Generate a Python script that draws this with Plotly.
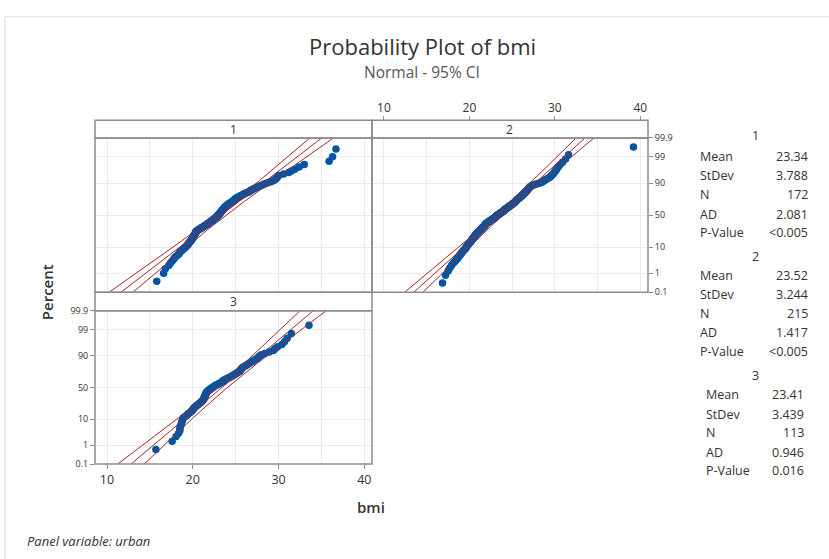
import plotly.graph_objects as go
from statistics import NormalDist

# ---------------- data ----------------
panel_labels = ["1", "2", "3"]

bmi_urban_1 = [
    15.8, 16.6, 16.8, 17.2, 17.4, 17.6, 17.8, 17.9, 18.1, 18.3,
    18.4, 18.5, 18.6, 18.75, 18.9,
    19.0, 19.1, 19.2, 19.3, 19.4,
    19.45, 19.5, 19.55, 19.6, 19.7,
    19.75, 19.8, 19.85, 19.9,
    19.95, 20.0, 20.0, 20.05, 20.1, 20.1,
    20.15, 20.2, 20.2, 20.25, 20.3, 20.3, 20.35, 20.4, 20.4, 20.4,
    20.5, 20.6, 20.65, 20.7, 20.8,
    20.9, 21.0, 21.0, 21.1, 21.2,
    21.3, 21.35, 21.4, 21.5, 21.55, 21.65,
    21.7, 21.75, 21.8, 21.9, 21.95, 22.0, 22.05, 22.1, 22.2,
    22.25, 22.3, 22.35, 22.4, 22.45, 22.5, 22.55, 22.6, 22.65, 22.7,
    22.75, 22.8, 22.85, 22.9, 22.9, 22.95, 23.0,
    23.05, 23.1, 23.1, 23.15, 23.2, 23.2, 23.25, 23.3, 23.3, 23.35, 23.4, 23.45, 23.5,
    23.5, 23.55, 23.6, 23.6, 23.65, 23.7, 23.7, 23.75, 23.8, 23.85, 23.9, 23.95, 24.0,
    24.05, 24.1, 24.2, 24.25, 24.3, 24.4, 24.5,
    24.55, 24.6, 24.7, 24.75, 24.8, 24.85, 24.9, 25.0, 25.05, 25.1, 25.2, 25.3, 25.4,
    25.5, 25.6, 25.7, 25.8, 25.95, 26.05, 26.2, 26.35, 26.5,
    26.6, 26.7, 26.8, 26.9, 27.05, 27.2,
    27.35, 27.5, 27.7, 27.9, 28.1,
    28.3, 28.5, 28.8, 29.1, 29.4,
    29.55, 29.7, 29.8, 29.9, 30.0,
    30.6, 31.2, 31.5, 31.9, 32.4, 33.0, 35.9, 36.3, 36.7,
]

bmi_urban_2 = [
    16.85, 17.2, 17.5, 17.7, 17.9, 18.1, 18.3, 18.45, 18.6, 18.7,
    18.8, 18.9, 19.0, 19.05, 19.15,
    19.25, 19.3, 19.4, 19.5, 19.55,
    19.6, 19.65, 19.7, 19.75, 19.8, 19.85, 19.9, 19.95, 20.0, 20.1,
    20.15, 20.2, 20.2, 20.25, 20.3, 20.35, 20.4, 20.4, 20.45, 20.5,
    20.55, 20.6, 20.6, 20.65, 20.7, 20.7, 20.75, 20.8, 20.8, 20.85,
    20.9, 20.95, 21.0, 21.05, 21.1, 21.1, 21.15, 21.2, 21.25, 21.3,
    21.35, 21.4, 21.4, 21.45, 21.5, 21.5, 21.55, 21.6, 21.65, 21.7,
    21.7, 21.75, 21.8, 21.8, 21.85, 21.85, 21.9, 21.9, 21.95, 22.0,
    22.05, 22.1, 22.15, 22.2, 22.25, 22.3, 22.35, 22.4, 22.45, 22.5,
    22.55, 22.6, 22.65, 22.7, 22.75, 22.8, 22.85, 22.9, 22.95, 23.0,
    23.05, 23.05, 23.1, 23.1, 23.15, 23.2, 23.25, 23.3,
    23.35, 23.4, 23.45, 23.5, 23.55, 23.6, 23.65, 23.7, 23.75, 23.8, 23.85, 23.9,
    23.95, 24.0, 24.0, 24.05, 24.1, 24.1, 24.15, 24.2, 24.25, 24.3,
    24.35, 24.4, 24.45, 24.5, 24.55, 24.6, 24.65, 24.7, 24.75, 24.8,
    24.85, 24.9, 24.95, 25.0, 25.05, 25.1, 25.15, 25.2, 25.25, 25.3,
    25.35, 25.4, 25.4, 25.45, 25.5, 25.5, 25.55, 25.6, 25.65, 25.7,
    25.75, 25.8, 25.85, 25.9, 25.95, 26.0, 26.05, 26.1, 26.15, 26.2,
    26.25, 26.3, 26.35, 26.4, 26.45, 26.5, 26.55, 26.6, 26.65, 26.7,
    26.75, 26.8, 26.85, 26.9, 26.95, 27.0, 27.05, 27.1, 27.2, 27.3,
    27.5, 27.7, 27.9, 28.15, 28.4,
    28.55, 28.7, 28.8, 28.95, 29.1,
    29.3, 29.45, 29.55, 29.65, 29.8,
    29.9, 30.0, 30.15, 30.25, 30.4,
    30.6, 30.9, 31.25, 31.6, 39.2,
]

bmi_urban_3 = [
    15.7, 17.6, 18.05, 18.35, 18.5, 18.5, 18.55, 18.65, 18.7, 18.75,
    18.8, 18.85, 18.95, 19.1, 19.3,
    19.4, 19.5, 19.7, 19.8, 19.9,
    20.0, 20.05, 20.1, 20.2, 20.3,
    20.4, 20.5, 20.6, 20.7, 20.8,
    20.9, 21.0, 21.05, 21.1, 21.2,
    21.25, 21.3, 21.3, 21.35, 21.4,
    21.4, 21.45, 21.45, 21.5, 21.5,
    21.55, 21.6, 21.6, 21.65, 21.7,
    21.8, 21.9, 22.0, 22.05, 22.1, 22.2, 22.3,
    22.4, 22.5, 22.6,
    22.7, 22.8, 22.95, 23.05, 23.2,
    23.3, 23.4, 23.45, 23.55, 23.6,
    23.75, 23.9, 24.0, 24.15, 24.3,
    24.45, 24.55, 24.7, 24.8, 24.95,
    25.05, 25.15, 25.25, 25.4, 25.5,
    25.55, 25.6, 25.7, 25.75, 25.85,
    26.0, 26.15, 26.3, 26.45, 26.6,
    26.8, 26.95, 27.1, 27.3, 27.5,
    27.65, 27.8, 28.0, 28.4, 28.9,
    29.4, 29.6, 29.9, 30.4, 30.7, 31.0, 31.5, 33.55,
]

means = [23.34, 23.52, 23.41]
stdevs = [3.788, 3.244, 3.439]
ns = [172, 215, 113]
ad_values = ["2.081", "1.417", "0.946"]
p_values = ["<0.005", "<0.005", "0.016"]

percent_ticks = [0.1, 1, 10, 50, 90, 99, 99.9]
percent_tick_labels = ["0.1", "1", "10", "50", "90", "99", "99.9"]
x_ticks = [10, 20, 30, 40]
x_minor_ticks = [15, 25, 35]

# ---------------- helpers ----------------
W, H = 829, 559
nd = NormalDist()


def PX(px):
    return px / W


def PY(py):
    return 1 - py / H


def zq(p):
    return nd.inv_cdf(p)


FONT = "Open Sans, Noto Sans, DejaVu Sans, sans-serif"
TXT = "#333333"
FRAME = "#8c8c8c"
GRID = "#ececec"
BLUE = "#0055a5"
RED = "#a3262c"

y_range = [zq(0.001), zq(0.999)]
y_tickvals = [zq(p / 100.0) for p in percent_ticks]
x_range = [8.6, 40.9]

datasets = [bmi_urban_1, bmi_urban_2, bmi_urban_3]
axis_ids = [("x", "y"), ("x2", "y2"), ("x3", "y3")]

fig = go.Figure()

for k, data in enumerate(datasets):
    xs = sorted(data)
    n = len(xs)
    ys = [zq((i + 1 - 0.3) / (n + 0.4)) for i in range(n)]
    xa, ya = axis_ids[k]
    fig.add_trace(go.Scatter(
        x=xs, y=ys, mode="markers", xaxis=xa, yaxis=ya,
        marker=dict(color=BLUE, size=7.5, line=dict(width=0)),
        showlegend=False, hoverinfo="skip"))
    # fitted normal line and 95% CI bands
    m, s, nn = means[k], stdevs[k], ns[k]
    zs = [-3.6 + 7.2 * j / 120 for j in range(121)]
    fit = [m + z * s for z in zs]
    se = [s * ((1 + z * z / 2.0) / nn) ** 0.5 for z in zs]
    lo = [f - 1.96 * e for f, e in zip(fit, se)]
    hi = [f + 1.96 * e for f, e in zip(fit, se)]
    for line_x in (lo, fit, hi):
        fig.add_trace(go.Scatter(
            x=line_x, y=zs, mode="lines", xaxis=xa, yaxis=ya,
            line=dict(color=RED, width=1.0),
            showlegend=False, hoverinfo="skip"))

# panel geometry in pixels
P1 = dict(x0=95, x1=372, y0=134, y1=292, hy0=116)
P2 = dict(x0=372, x1=648, y0=134, y1=292, hy0=116)
P3 = dict(x0=95, x1=372, y0=311, y1=468, hy0=292)
panels = [P1, P2, P3]

common_x = dict(range=x_range, tickvals=x_ticks, showgrid=True, gridcolor=GRID,
                gridwidth=1, zeroline=False, showline=False,
                minor=dict(tickvals=x_minor_ticks, showgrid=True, gridcolor=GRID,
                           gridwidth=1, ticks=""),
                tickfont=dict(family=FONT, size=12, color=TXT),
                tickcolor=FRAME, ticklen=4, tickwidth=1)
common_y = dict(range=y_range, tickvals=y_tickvals, ticktext=percent_tick_labels,
                showgrid=True, gridcolor=GRID, gridwidth=1, zeroline=False,
                showline=False,
                tickfont=dict(family=FONT, size=9, color=TXT),
                tickcolor=FRAME, ticklen=4, tickwidth=1)

layout = dict(
    width=W, height=H, margin=dict(l=0, r=0, t=0, b=0),
    paper_bgcolor="white", plot_bgcolor="white",
    font=dict(family=FONT, color=TXT),
    showlegend=False,
    xaxis=dict(common_x, domain=[PX(P1["x0"]), PX(P1["x1"])], anchor="y",
               showticklabels=False, ticks=""),
    yaxis=dict(common_y, domain=[PY(P1["y1"]), PY(P1["y0"])], anchor="x",
               showticklabels=False, ticks=""),
    xaxis2=dict(common_x, domain=[PX(P2["x0"]), PX(P2["x1"])], anchor="free",
                position=PY(P2["hy0"]), side="top", ticks="outside",
                tickfont=dict(family=FONT, size=12, color=TXT)),
    yaxis2=dict(common_y, domain=[PY(P2["y1"]), PY(P2["y0"])], anchor="x2",
                side="right", ticks="outside"),
    xaxis3=dict(common_x, domain=[PX(P3["x0"]), PX(P3["x1"])], anchor="y3",
                side="bottom", ticks="outside",
                tickfont=dict(family=FONT, size=12.5, color=TXT)),
    yaxis3=dict(common_y, domain=[PY(P3["y1"]), PY(P3["y0"])], anchor="x3",
                side="left", ticks="outside"),
)
fig.update_layout(**layout)

shapes = []
annotations = []
# outer light frame
shapes.append(dict(type="rect", xref="paper", yref="paper",
                   x0=PX(5), x1=PX(W + 20), y0=PY(H + 20), y1=PY(10),
                   line=dict(color="#dcdcdc", width=1), layer="below"))
for k, P in enumerate(panels):
    shapes.append(dict(type="rect", xref="paper", yref="paper",
                       x0=PX(P["x0"]), x1=PX(P["x1"]), y0=PY(P["y1"]), y1=PY(P["y0"]),
                       line=dict(color=FRAME, width=1.5), layer="above"))
    shapes.append(dict(type="rect", xref="paper", yref="paper",
                       x0=PX(P["x0"]), x1=PX(P["x1"]), y0=PY(P["y0"]), y1=PY(P["hy0"]),
                       line=dict(color=FRAME, width=1.5), layer="above"))
    annotations.append(dict(xref="paper", yref="paper",
                            x=PX((P["x0"] + P["x1"]) / 2), y=PY((P["hy0"] + P["y0"]) / 2),
                            text=panel_labels[k], showarrow=False,
                            xanchor="center", yanchor="middle",
                            font=dict(family=FONT, size=12, color=TXT)))

# titles
annotations.append(dict(xref="paper", yref="paper", x=PX(422), y=PY(40),
                        text="Probability Plot of bmi", showarrow=False,
                        xanchor="center", yanchor="middle",
                        font=dict(family=FONT, size=22, color=TXT)))
annotations.append(dict(xref="paper", yref="paper", x=PX(422), y=PY(67),
                        text="Normal - 95% CI", showarrow=False,
                        xanchor="center", yanchor="middle",
                        font=dict(family=FONT, size=15.5, color="#555555")))
annotations.append(dict(xref="paper", yref="paper", x=PX(47), y=PY(292),
                        text="Percent", showarrow=False, textangle=-90,
                        xanchor="center", yanchor="middle",
                        font=dict(family=FONT, size=15, color=TXT, weight=600)))
annotations.append(dict(xref="paper", yref="paper", x=PX(371), y=PY(512),
                        text="bmi", showarrow=False,
                        xanchor="center", yanchor="middle",
                        font=dict(family=FONT, size=15, color=TXT, weight=600)))
annotations.append(dict(xref="paper", yref="paper", x=PX(25), y=PY(547),
                        text="<i>Panel variable: urban</i>", showarrow=False,
                        xanchor="left", yanchor="middle",
                        font=dict(family=FONT, size=13, color=TXT)))

# statistics table
row_labels = ["Mean", "StDev", "N", "AD", "P-Value"]
header_y = [132, 255, 377]
row_y = [[153, 173, 192, 212, 231],
         [275, 294, 314, 333, 353],
         [397, 417, 436, 456, 475]]
label_x = [698, 698, 704]
value_x = [810, 810, 806]
for k in range(3):
    vals = ["%.2f" % means[k], "%.3f" % stdevs[k], str(ns[k]), ad_values[k], p_values[k]]
    annotations.append(dict(xref="paper", yref="paper", x=PX(755), y=PY(header_y[k]),
                            text=panel_labels[k], showarrow=False,
                            xanchor="center", yanchor="middle",
                            font=dict(family=FONT, size=12.5, color=TXT)))
    for r in range(5):
        annotations.append(dict(xref="paper", yref="paper", x=PX(label_x[k]), y=PY(row_y[k][r]),
                                text=row_labels[r], showarrow=False,
                                xanchor="left", yanchor="middle",
                                font=dict(family=FONT, size=12.5, color=TXT)))
        annotations.append(dict(xref="paper", yref="paper", x=PX(value_x[k]), y=PY(row_y[k][r]),
                                text=vals[r], showarrow=False,
                                xanchor="right", yanchor="middle",
                                font=dict(family=FONT, size=12.5, color=TXT)))

fig.update_layout(shapes=shapes, annotations=annotations)
fig.write_html("out.html", config={"displayModeBar": False},
               post_script="document.body.style.margin='0';document.body.style.overflow='hidden';")
